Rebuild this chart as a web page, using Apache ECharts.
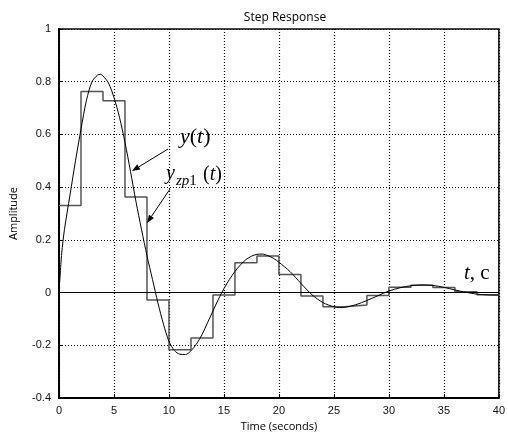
<!DOCTYPE html>
<html>
<head>
<meta charset="utf-8">
<script src="https://cdn.jsdelivr.net/npm/echarts@6/dist/echarts.min.js"></script>
<style>
html,body{margin:0;padding:0;background:#fff;}
#chart{width:508px;height:437px;}
</style>
</head>
<body>
<div id="chart"></div>
<script>
// continuous response y(t)
var curveT = [0,0.25,0.5,1,1.5,2,2.5,3,3.5,3.75,4,4.5,5,5.5,6,6.5,7,7.5,8,8.5,9,9.5,10,10.5,11,11.5,12,12.5,13,13.5,14,14.5,15,15.5,16,16.5,17,17.5,18,18.5,19,19.5,20,21,22,23,24,25,25.5,26,27,28,29,30,31,32,33,34,35,36,37,38,39,40];
var curveY = [0,0.15,0.24,0.37,0.5,0.62,0.73,0.8,0.825,0.828,0.822,0.795,0.74,0.665,0.57,0.46,0.345,0.24,0.14,0.05,-0.04,-0.12,-0.185,-0.22,-0.234,-0.235,-0.221,-0.195,-0.16,-0.115,-0.07,-0.025,0.015,0.05,0.08,0.105,0.125,0.138,0.145,0.146,0.14,0.13,0.115,0.08,0.035,-0.008,-0.038,-0.054,-0.057,-0.056,-0.046,-0.03,-0.012,0.006,0.018,0.026,0.029,0.027,0.02,0.01,0.001,-0.006,-0.009,-0.01];
// sampled (zero-order hold) response y_zp1(t)
var stepT = [0,2,4,6,8,10,12,14,16,18,20,22,24,26,28,30,32,34,36,38,40];
var stepY = [0.33,0.763,0.728,0.363,-0.028,-0.217,-0.172,-0.009,0.113,0.139,0.069,-0.013,-0.054,-0.047,-0.011,0.02,0.028,0.019,0.003,-0.008,-0.008];
var xTicks = {min:0, max:40, interval:5};
var yTicks = {min:-0.4, max:1, interval:0.2};
var titleText = 'Step Response';
var xName = 'Time (seconds)';
var yName = 'Amplitude';

var curveData = curveT.map(function(t,i){return [t, curveY[i]];});
var stepData = stepT.map(function(t,i){return [t, stepY[i]];});

var chart = echarts.init(document.getElementById('chart'), null, {renderer:'canvas'});
var serif = '"Liberation Serif","DejaVu Serif",serif';
var sans = '"Liberation Sans",Arial,sans-serif';
var uiFont = '"Open Sans","Noto Sans",sans-serif';

function arrow(x1,y1,x2,y2){
  var dx=x2-x1, dy=y2-y1, L=Math.sqrt(dx*dx+dy*dy), ux=dx/L, uy=dy/L;
  var hl=8, hw=3;
  var bx=x2-hl*ux, by=y2-hl*uy, nx=-uy, ny=ux;
  return [
    {type:'line', shape:{x1:x1,y1:y1,x2:bx,y2:by}, style:{stroke:'#000',lineWidth:1}, z:100},
    {type:'polygon', shape:{points:[[x2,y2],[bx+hw*nx,by+hw*ny],[bx-hw*nx,by-hw*ny]]}, style:{fill:'#000'}, z:100}
  ];
}

var graphics = [].concat(
  arrow(168,149,132,171),
  arrow(170,189,147,223),
  [
    {type:'text', left:180, top:126, z:100, style:{text:'{i|y}{n|(}{i|t}{n|)}', rich:{i:{fontFamily:serif,fontStyle:'italic',fontSize:22,fill:'#000'},n:{fontFamily:serif,fontSize:22,fill:'#000'}}}},
    {type:'text', left:166, top:164, z:100, style:{text:'y', font:'italic 20px '+serif, fill:'#000'}},
    {type:'text', left:176, top:174, z:100, style:{text:'{i|zp}{n|1}', rich:{i:{fontFamily:serif,fontStyle:'italic',fontSize:15,fill:'#000'},n:{fontFamily:serif,fontSize:15,fill:'#000'}}}},
    {type:'text', left:203, top:165, z:100, style:{text:'{n|(}{i|t}{n|)}', rich:{i:{fontFamily:serif,fontStyle:'italic',fontSize:20,fill:'#000'},n:{fontFamily:serif,fontSize:20,fill:'#000'}}}},
    {type:'text', left:464, top:263, z:100, style:{text:'{i|t}{n|, c}', rich:{i:{fontFamily:serif,fontStyle:'italic',fontSize:21,fill:'#000'},n:{fontFamily:serif,fontSize:21,fill:'#000'}}}}
  ]
);

function fmt(v){ return String(Math.round(v*10)/10); }

chart.setOption({
  animation:false,
  backgroundColor:'#fff',
  title:{text:titleText, left:280, textAlign:'center', top:7, textStyle:{fontFamily:uiFont, fontSize:12, fontWeight:'normal', color:'#000'}},
  grid:{left:58, right:7, top:29, bottom:39, show:true, borderColor:'#000', borderWidth:1.5, containLabel:false},
  xAxis:{type:'value', min:xTicks.min, max:xTicks.max, interval:xTicks.interval,
    name:xName, nameLocation:'middle', nameGap:22, nameTextStyle:{fontFamily:uiFont, fontSize:11, color:'#000'},
    axisLine:{show:true, onZero:false, lineStyle:{color:'#000', width:2}},
    axisTick:{show:true, inside:true, length:4, lineStyle:{color:'#000'}},
    axisLabel:{fontFamily:sans, fontSize:11, color:'#111', margin:7, formatter:fmt},
    splitLine:{show:true, lineStyle:{color:'#000', type:[1,2], width:1.2}}
  },
  yAxis:{type:'value', min:yTicks.min, max:yTicks.max, interval:yTicks.interval,
    name:yName, nameLocation:'middle', nameGap:40, nameTextStyle:{fontFamily:uiFont, fontSize:11, color:'#000'},
    axisLine:{show:true, lineStyle:{color:'#000', width:2}},
    axisTick:{show:true, inside:true, length:4, lineStyle:{color:'#000'}},
    axisLabel:{fontFamily:sans, fontSize:11, color:'#111', margin:8, formatter:fmt},
    splitLine:{show:true, lineStyle:{color:'#000', type:[1,2], width:1.2}}
  },
  graphic:graphics,
  series:[
    {type:'line', name:'yzp1', data:stepData, step:'end', showSymbol:false, symbol:'none',
     lineStyle:{color:'#555', width:1.5}, z:3,
     markLine:{silent:true, symbol:['none','none'], label:{show:false},
       lineStyle:{color:'#000', type:'solid', width:1.2}, data:[{yAxis:0}]}},
    {type:'line', name:'y', data:curveData, smooth:0.3, showSymbol:false, symbol:'none',
     lineStyle:{color:'#000', width:1}, z:4}
  ]
});
</script>
</body>
</html>
